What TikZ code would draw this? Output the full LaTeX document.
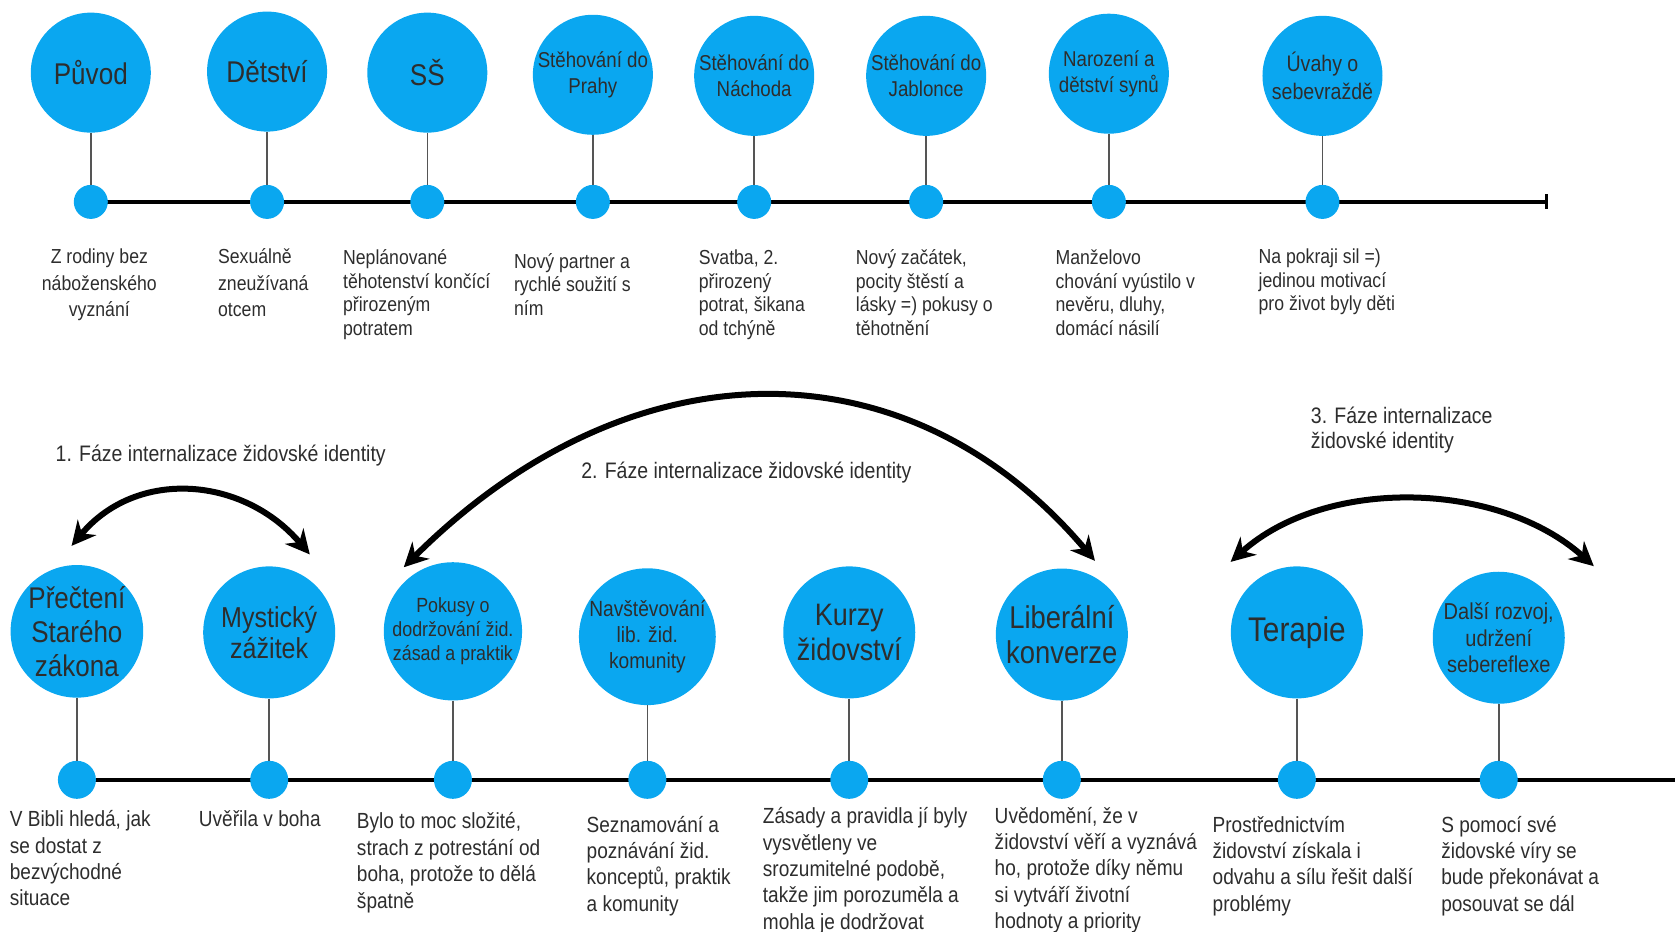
\documentclass[tikz,border=0pt]{standalone}
\usepackage{fontspec}
\setmainfont{Liberation Sans}[FakeStretch=0.87]
\usetikzlibrary{arrows.meta}
\definecolor{tlblue}{RGB}{10,167,240}
\definecolor{tltext}{RGB}{45,45,45}
\definecolor{stemgray}{RGB}{85,85,85}
\tikzset{
  tball/.style={circle,fill=tlblue,inner sep=0pt,minimum size=120pt,align=center,text=tltext},
  bball/.style={tball,minimum size=132pt},
  tdot/.style={circle,fill=tlblue,inner sep=0pt,minimum size=34pt},
  bdot/.style={tdot,minimum size=38pt},
  tlstem/.style={draw=stemgray,line width=1.6pt},
  tlaxis/.style={draw=black,line width=4.3pt},
  lbl/.style={anchor=base west,align=left,inner sep=0pt,text=tltext},
  phasearrow/.style={line width=6pt,>={Stealth[length=24pt,width=24pt]},<->}
}
\begin{document}
\begin{tikzpicture}[x=1.0682pt,y=-1.0682pt]
  \useasboundingbox (0,0) rectangle (1568,872);
  \coordinate (ta) at (85,189);
  \coordinate (tb) at (1449,189);
  \coordinate (ba) at (72,730);
  \coordinate (bb) at (1568,730);
  \draw[tlaxis,-{Bar[width=15pt,line width=2.5pt]}] (ta) -- (tb);
  \draw[tlaxis] (ba) -- (bb);

  \node[tball,font=\fontsize{30}{34}\selectfont] (t1) at (85,68) {Původ};
  \node[tball,font=\fontsize{30}{34}\selectfont] (t2) at (250,67) {Dětství};
  \node[tball,font=\fontsize{30}{34}\selectfont] (t3) at (400,68) {SŠ};
  \node[tball,font=\fontsize{21.5}{25.6}\selectfont] (t4) at (555,70) {Stěhování do\\Prahy};
  \node[tball,font=\fontsize{21.5}{25.6}\selectfont] (t5) at (706,71) {Stěhování do\\Náchoda};
  \node[tball,font=\fontsize{21.5}{25.6}\selectfont] (t6) at (867,71) {Stěhování do\\Jablonce};
  \node[tball,font=\fontsize{21.5}{25.6}\selectfont] (t7) at (1038,69) {Narození a\\dětství synů};
  \node[tball,font=\fontsize{22.5}{27.8}\selectfont] (t8) at (1238,71) {Úvahy o\\sebevraždě};

  \node[tdot] (d1) at (85,189) {};
  \node[tdot] (d2) at (250,189) {};
  \node[tdot] (d3) at (400,189) {};
  \node[tdot] (d4) at (555,189) {};
  \node[tdot] (d5) at (706,189) {};
  \node[tdot] (d6) at (867,189) {};
  \node[tdot] (d7) at (1038,189) {};
  \node[tdot] (d8) at (1238,189) {};

  \draw[tlstem] (t1) -- (d1);
  \draw[tlstem] (t2) -- (d2);
  \draw[tlstem] (t3) -- (d3);
  \draw[tlstem] (t4) -- (d4);
  \draw[tlstem] (t5) -- (d5);
  \draw[tlstem] (t6) -- (d6);
  \draw[tlstem] (t7) -- (d7);
  \draw[tlstem] (t8) -- (d8);

  \node[lbl,anchor=base,align=center,font=\fontsize{20.3}{26.2}\selectfont] (n1) at (93,296) {Z rodiny bez\\náboženského\\vyznání};
  \node[lbl,font=\fontsize{20.3}{26.2}\selectfont] (n2) at (204,296) {Sexuálně\\zneužívaná\\otcem};
  \node[lbl,font=\fontsize{20.3}{23.5}\selectfont] (n3) at (321,314) {Neplánované\\těhotenství končící\\přirozeným\\potratem};
  \node[lbl,font=\fontsize{20.3}{23.5}\selectfont] (n4) at (481,295) {Nový partner a\\rychlé soužití s\\ním};
  \node[lbl,font=\fontsize{20.3}{23.5}\selectfont] (n5) at (654,314) {Svatba, 2.\\přirozený\\potrat, šikana\\od tchýně};
  \node[lbl,font=\fontsize{20.3}{23.5}\selectfont] (n6) at (801,314) {Nový začátek,\\pocity štěstí a\\lásky =) pokusy o\\těhotnění};
  \node[lbl,font=\fontsize{20.3}{23.5}\selectfont] (n7) at (988,314) {Manželovo\\chování vyústilo v\\nevěru, dluhy,\\domácí násilí};
  \node[lbl,font=\fontsize{20.3}{23.5}\selectfont] (n8) at (1178,291) {Na pokraji sil =)\\jedinou motivací\\pro život byly děti};

  \node[bball,font=\fontsize{29.9}{34.2}\selectfont] (b1) at (72,591) {Přečtení\\Starého\\zákona};
  \node[bball,font=\fontsize{28.8}{31}\selectfont] (b2) at (252,592) {Mystický\\zážitek};
  \node[bball,font=\fontsize{20.5}{24}\selectfont] (b3) at (424,591) {Pokusy o\\dodržování žid.\\zásad a praktik};
  \node[bball,font=\fontsize{22}{26.2}\selectfont] (b4) at (606,596) {Navštěvování\\lib. žid.\\komunity};
  \node[bball,font=\fontsize{31}{34.2}\selectfont] (b5) at (795,592) {Kurzy\\židovství};
  \node[bball,font=\fontsize{31.5}{35.2}\selectfont] (b6) at (994,594) {Liberální\\konverze};
  \node[bball,font=\fontsize{34.2}{38}\selectfont] (b7) at (1214,592) {Terapie};
  \node[bball,font=\fontsize{23}{26.7}\selectfont] (b8) at (1403,597) {Další rozvoj,\\udržení\\sebereflexe};

  \node[bdot] (e1) at (72,730) {};
  \node[bdot] (e2) at (252,730) {};
  \node[bdot] (e3) at (424,730) {};
  \node[bdot] (e4) at (606,730) {};
  \node[bdot] (e5) at (795,730) {};
  \node[bdot] (e6) at (994,730) {};
  \node[bdot] (e7) at (1214,730) {};
  \node[bdot] (e8) at (1403,730) {};

  \draw[tlstem] (b1) -- (e1);
  \draw[tlstem] (b2) -- (e2);
  \draw[tlstem] (b3) -- (e3);
  \draw[tlstem] (b4) -- (e4);
  \draw[tlstem] (b5) -- (e5);
  \draw[tlstem] (b6) -- (e6);
  \draw[tlstem] (b7) -- (e7);
  \draw[tlstem] (b8) -- (e8);

  \node[lbl,font=\fontsize{21.9}{26.4}\selectfont] (m1) at (9,848) {V Bibli hledá, jak\\se dostat z\\bezvýchodné\\situace};
  \node[lbl,font=\fontsize{21.9}{26.4}\selectfont] (m2) at (186,774) {Uvěřila v boha};
  \node[lbl,font=\fontsize{21.9}{26.4}\selectfont] (m3) at (334,850) {Bylo to moc složité,\\strach z potrestání od\\boha, protože to dělá\\špatně};
  \node[lbl,font=\fontsize{21.9}{26.4}\selectfont] (m4) at (549,853) {Seznamování a\\poznávání žid.\\konceptů, praktik\\a komunity};
  \node[lbl,font=\fontsize{21.9}{26.4}\selectfont] (m5) at (714,870) {Zásady a pravidla jí byly\\vysvětleny ve\\srozumitelné podobě,\\takže jim porozuměla a\\mohla je dodržovat};
  \node[lbl,font=\fontsize{21.9}{26.2}\selectfont] (m6) at (931,869) {Uvědomění, že v\\židovství věří a vyznává\\ho, protože díky němu\\si vytváří životní\\hodnoty a priority};
  \node[lbl,font=\fontsize{21.9}{26.4}\selectfont] (m7) at (1135,853) {Prostřednictvím\\židovství získala i\\odvahu a sílu řešit další\\problémy};
  \node[lbl,font=\fontsize{21.9}{26.4}\selectfont] (m8) at (1349,853) {S pomocí své\\židovské víry se\\bude překonávat a\\posouvat se dál};

  \node[lbl,font=\fontsize{22.4}{25.6}\selectfont] (p1) at (52,432) {1. Fáze internalizace židovské identity};
  \node[lbl,font=\fontsize{22.4}{25.6}\selectfont] (p2) at (544,448) {2. Fáze internalizace židovské identity};
  \node[lbl,font=\fontsize{22.4}{25.6}\selectfont] (p3) at (1227,420) {3. Fáze internalizace\\židovské identity};

  \coordinate (a1l) at (67,511);
  \coordinate (a1r) at (290,519);
  \coordinate (a2l) at (378,531);
  \coordinate (a2r) at (1025,525);
  \coordinate (a3l) at (1152,526);
  \coordinate (a3r) at (1492,530);
  \draw[phasearrow] (a1l) .. controls (128,438) and (228,446) .. (a1r);
  \draw[phasearrow] (a2l) .. controls (590,320) and (850,318) .. (a2r);
  \draw[phasearrow] (a3l) .. controls (1241,446) and (1403,450) .. (a3r);
\end{tikzpicture}
\end{document}
